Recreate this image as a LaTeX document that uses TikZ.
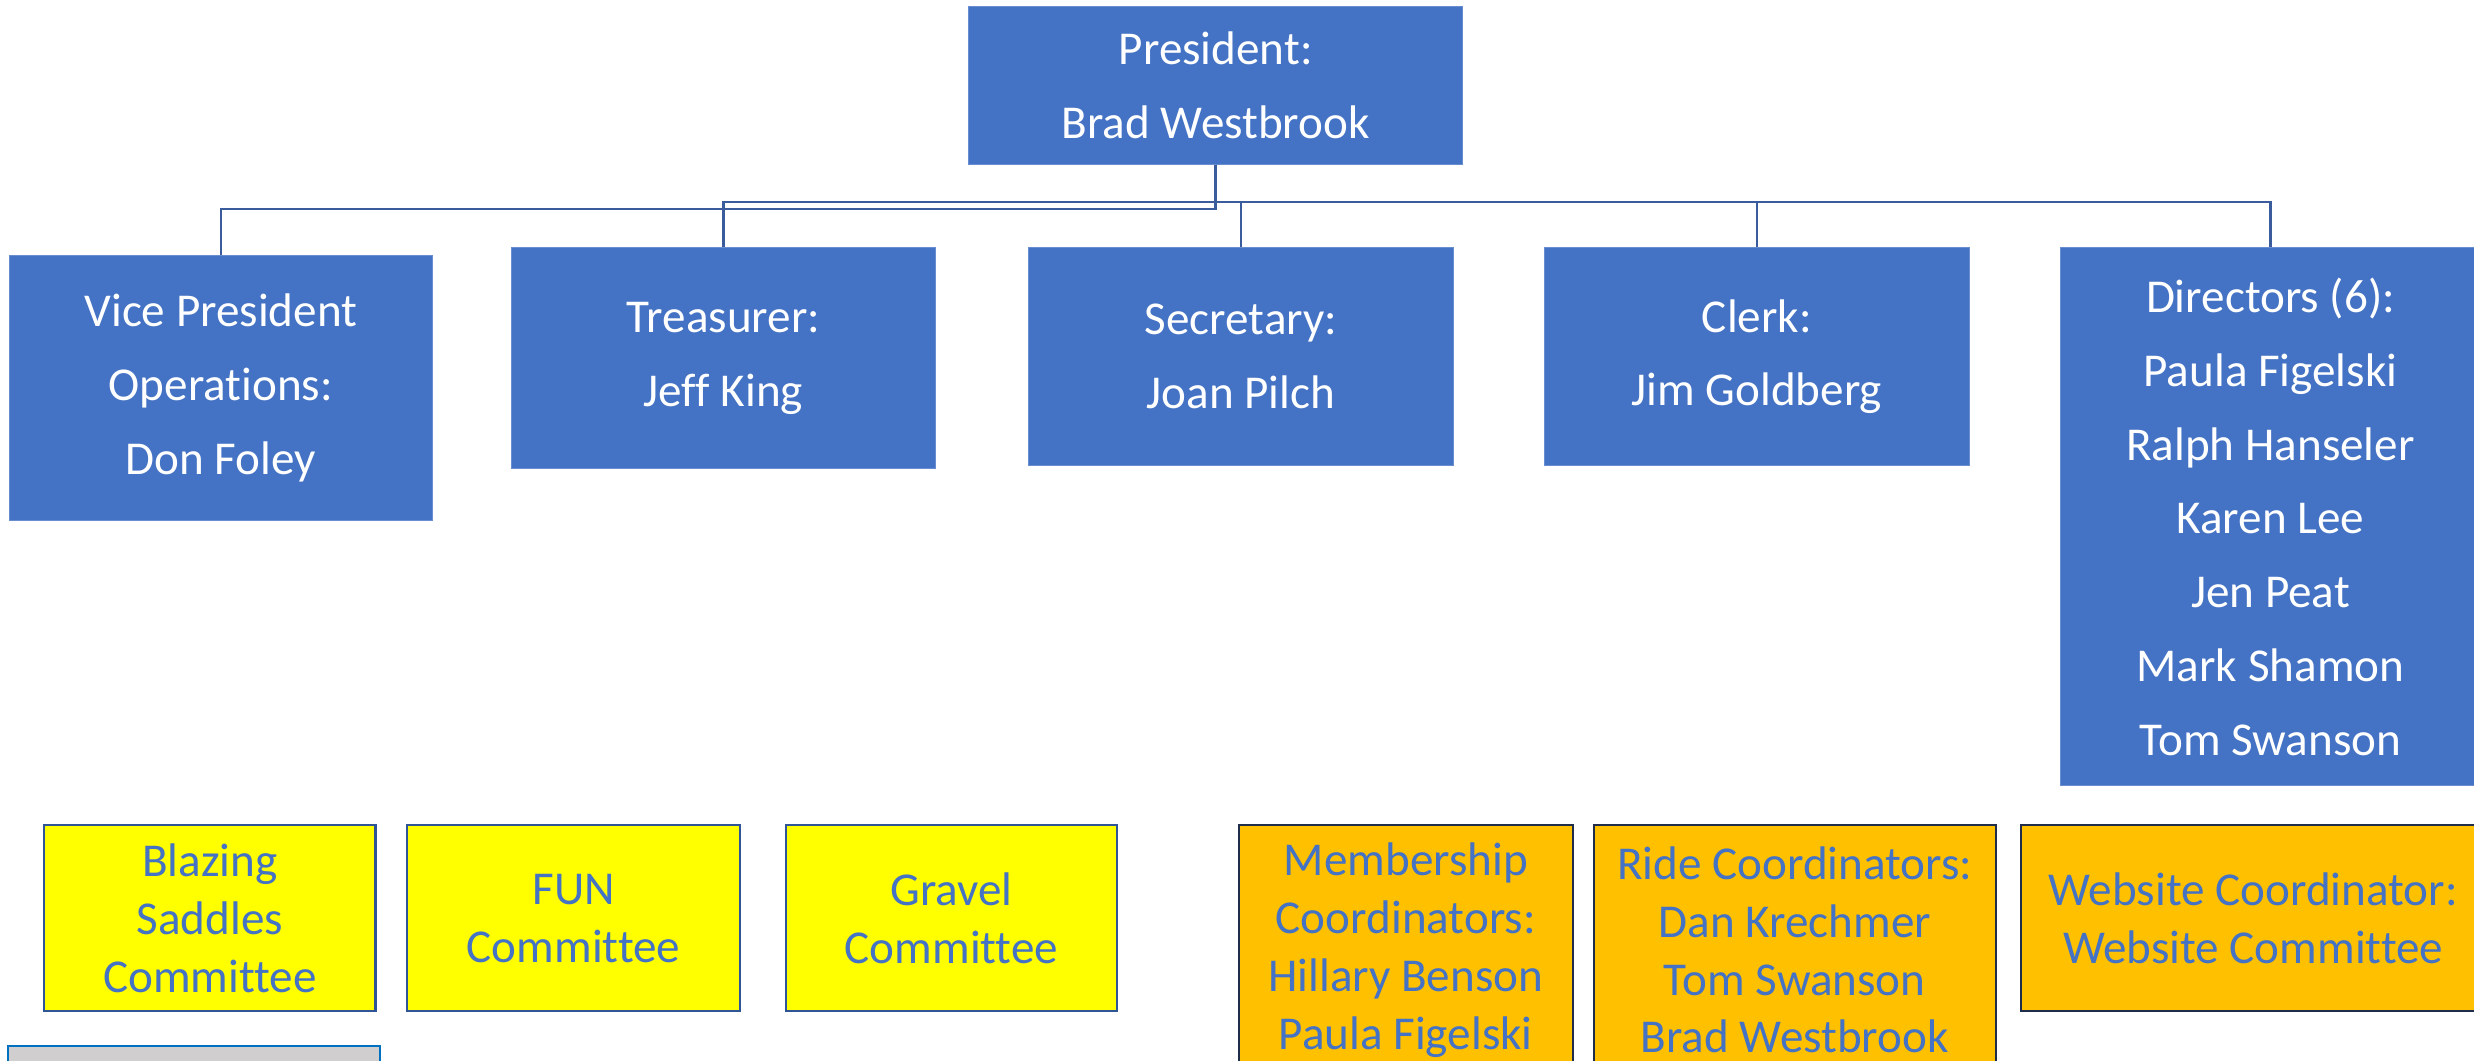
\documentclass[tikz,border=0pt]{standalone}
\usepackage{fontspec}
\setmainfont{Carlito}[Ligatures=NoCommon]
\usepackage{tikz}
\definecolor{officeblue}{HTML}{4472C4}
\definecolor{linkblue}{HTML}{3A5C9C}
\definecolor{boxyellow}{HTML}{FFFF00}
\definecolor{boxorange}{HTML}{FFC000}
\definecolor{yellowedge}{HTML}{2F5597}
\definecolor{orangeedge}{HTML}{1F2D4A}
\definecolor{boxgray}{HTML}{D0CECE}
\definecolor{grayedge}{HTML}{0070C0}

\begin{document}
\begin{tikzpicture}[x=0.02cm, y=-0.02cm,
    officer/.style={fill=officeblue, draw=officeblue!80!white, line width=0.4pt,
        text=white, align=center, inner sep=0pt,
        font=\fontsize{17}{26.6}\selectfont},
    committee/.style={fill=boxyellow, draw=yellowedge, line width=0.8pt,
        text=officeblue, align=center, inner sep=0pt,
        minimum width=4.2cm, minimum height=2.36cm,
        font=\fontsize{17}{20.9}\selectfont},
    coordbox/.style={committee, fill=boxorange, draw=orangeedge},
    link/.style={draw=linkblue, line width=0.9pt}]
        \useasboundingbox (0,0) rectangle (1568,672);

        % Bestuur
        \node[officer, minimum width=6.26cm, minimum height=2cm] (pres) at (770.5,54)
            {President:\\Brad Westbrook};
        \node[officer, minimum width=5.36cm, minimum height=3.36cm] (vp) at (140,246)
            {Vice President\\Operations:\\Don Foley};
        \node[officer, minimum width=5.38cm, minimum height=2.8cm] (tre) at (458.5,227)
            {Treasurer:\\Jeff King};
        \node[officer, minimum width=5.38cm, minimum height=2.76cm] (sec) at (786.5,226)
            {Secretary:\\Joan Pilch};
        \node[officer, minimum width=5.38cm, minimum height=2.76cm] (clk) at (1113.5,226)
            {Clerk:\\Jim Goldberg};
        \node[officer, minimum width=5.32cm, minimum height=6.82cm] (dir) at (1439,327.5)
            {Directors (6):\\Paula Figelski\\Ralph Hanseler\\Karen Lee\\Jen Peat\\Mark Shamon\\Tom Swanson};

        % Verbindingen
        \coordinate (busA) at (0,128);
        \coordinate (busB) at (0,132.6);
        \draw[link] (pres.south) -- (pres.south |- busB) -| (vp.north);
        \foreach \n in {tre,sec,clk,dir}
            \draw[link] (pres.south) -- (pres.south |- busA) -| (\n.north);

        % Commissies
        \node[committee] (blaze) at (133,582) {Blazing\\Saddles\\Committee};
        \node[committee, minimum width=4.22cm] (fun) at (363.5,582) {FUN\\Committee};
        \node[committee] (gravel) at (603,582) {Gravel\\Committee};

        % Coordinatoren
        \node[coordbox, minimum width=4.24cm, minimum height=3.16cm] (member) at (891,602)
            {Membership\\Coordinators:\\Hillary Benson\\Paula Figelski};
        \node[coordbox, minimum width=5.1cm, minimum height=3.16cm] (ride) at (1137.5,602)
            {Ride Coordinators:\\Dan Krechmer\\Tom Swanson\\Brad Westbrook};
        \node[coordbox, minimum width=5.88cm] (web) at (1428,582)
            {Website Coordinator:\\Website Committee};

        % Grijs vak onderaan
        \node[fill=boxgray, draw=grayedge, line width=0.8pt, inner sep=0pt,
            minimum width=4.72cm, minimum height=0.8cm] (grey) at (123,683) {};
\end{tikzpicture}
\end{document}
